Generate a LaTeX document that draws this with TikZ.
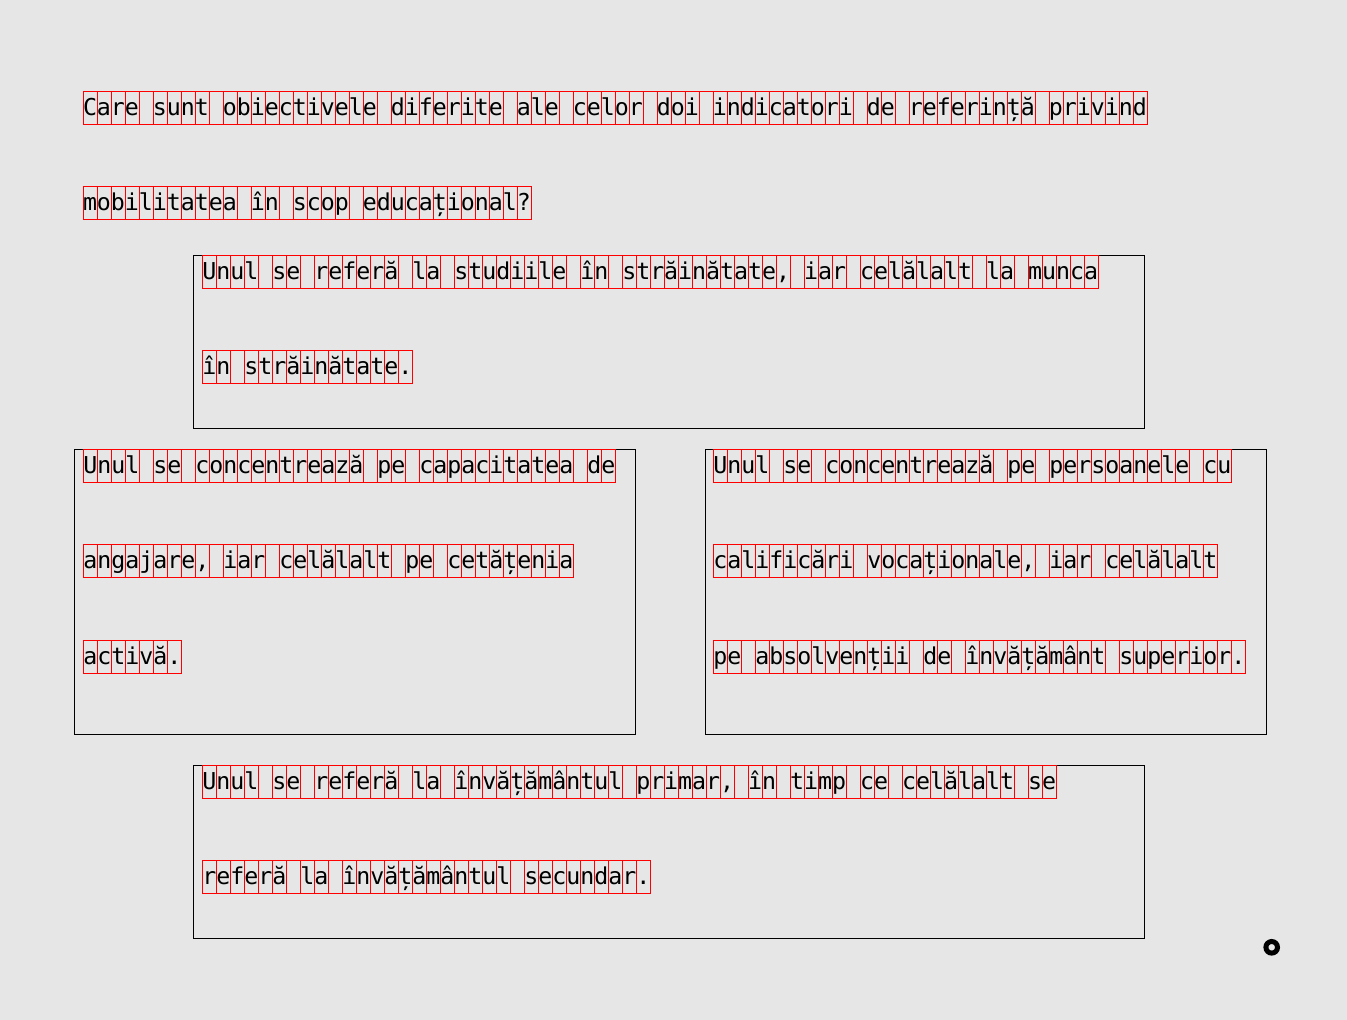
\documentclass[tikz,border=0pt]{standalone}
\usepackage{fontspec}
\newfontfamily\cellfont{DejaVu Sans Mono}
\definecolor{bgc}{HTML}{E6E6E6}
\definecolor{cellred}{HTML}{FF0000}
\tikzset{
  cellbox/.style={draw=cellred, line width=0.75pt},
  panel/.style={draw=black, line width=0.75pt},
  celltext/.style={anchor=base west, inner sep=0pt, outer sep=0pt, text=black,
    font=\cellfont\fontsize{17.44pt}{20pt}\selectfont}
}
\ExplSyntaxOn
\NewDocumentCommand\cellline{m m m m}{
  \int_set:Nn \l_tmpa_int { \str_count:n {#4} }
  \int_step_inline:nn {\l_tmpa_int}
    { \draw[cellbox]({#2+(##1-1)*14},#3)rectangle++(14,33); }
  \node[celltext](#1)at(#2,#3+24.3){#4};
}
\ExplSyntaxOff
\begin{document}
\begin{tikzpicture}[x=0.75pt,y=-0.75pt]
\fill[bgc] (0,0) rectangle (1347,1020);
\useasboundingbox (0,0) rectangle (1347,1020);
% question
\cellline{q1}{83}{91.3}{Care sunt obiectivele diferite ale celor doi indicatori de referință privind}
\cellline{q2}{83}{186.3}{mobilitatea în scop educațional?}
% panel A
\draw[panel] (193.3,255.7) rectangle (1144.7,428.3);
\cellline{a1}{202.3}{255.7}{Unul se referă la studiile în străinătate, iar celălalt la munca}
\cellline{a2}{202.3}{350.5}{în străinătate.}
% panel B
\draw[panel] (74.4,449) rectangle (635.3,734);
\cellline{b1}{83.4}{449}{Unul se concentrează pe capacitatea de}
\cellline{b2}{83.4}{544.5}{angajare, iar celălalt pe cetățenia}
\cellline{b3}{83.4}{640}{activă.}
% panel C
\draw[panel] (705.4,449) rectangle (1266.3,734);
\cellline{c1}{713.4}{449}{Unul se concentrează pe persoanele cu}
\cellline{c2}{713.4}{544.5}{calificări vocaționale, iar celălalt}
\cellline{c3}{713.4}{640}{pe absolvenții de învățământ superior.}
% panel D
\draw[panel] (193.3,765.3) rectangle (1144.7,938.3);
\cellline{d1}{202.3}{765.3}{Unul se referă la învățământul primar, în timp ce celălalt se}
\cellline{d2}{202.3}{860.3}{referă la învățământul secundar.}
% ring
\draw[line width=3.75pt] (1271.7,947.3) circle[radius=4.35pt];
\end{tikzpicture}
\end{document}
